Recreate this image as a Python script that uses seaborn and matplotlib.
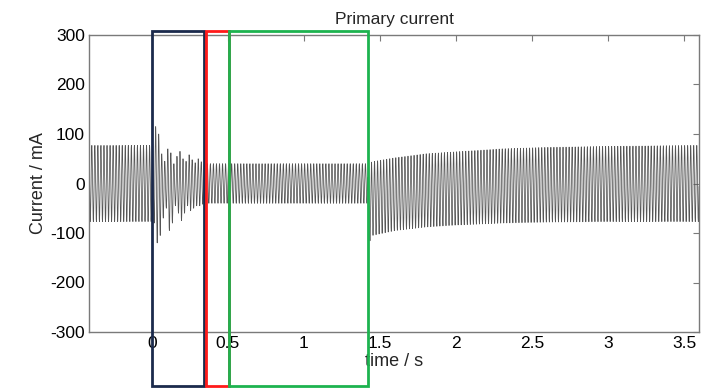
import numpy as np
import pandas as pd
import matplotlib
matplotlib.use("Agg")
import matplotlib.pyplot as plt
import seaborn as sns
from matplotlib.patches import Rectangle

# ---- data ----
freq_hz = 50.0
t_start, t_end = -0.42, 3.6
fault_time = 0.0
settle_time = 0.35
switch_time = 1.42

pre_peak_up, pre_peak_lo = 77, -77
# per-cycle peaks during the transient after t = 0
trans_up = [80, 115, 100, 60, 45, 70, 62, 40, 55, 65, 50, 45, 58, 48, 42, 50, 44, 40]
trans_lo = [-80, -120, -105, -70, -50, -95, -80, -45, -60, -75, -60, -45, -55, -50, -45, -45, -42, -40]
mid_peak_up, mid_peak_lo = 40, -40
# envelope after the switch at ~1.42 s
post_t = [1.42, 1.45, 1.6, 1.8, 2.0, 2.3, 2.6, 3.0, 3.6]
post_up = [40, 44, 52, 60, 64, 70, 73, 75, 77]
post_lo = [-125, -105, -95, -88, -84, -80, -78, -77, -77]

x_ticks = [0, 0.5, 1, 1.5, 2, 2.5, 3, 3.5]
x_tick_labels = ["0", "0.5", "1", "1.5", "2", "2.5", "3", "3.5"]
y_ticks = [-300, -200, -100, 0, 100, 200, 300]
y_tick_labels = ["-300", "-200", "-100", "0", "100", "200", "300"]

boxes = [  # (x0, x1, colour)
    (0.0, 0.344, "#1b2a4c"),
    (0.355, 0.505, "#ff1a1a"),
    (0.505, 1.421, "#1db34f"),
]
box_top, box_bottom = 309, -409

# ---- build waveform from envelopes ----
fs = 5000
t = np.arange(t_start, t_end, 1 / fs)
up = np.empty_like(t)
lo = np.empty_like(t)
period = 1 / freq_hz
pre = t < fault_time
up[pre], lo[pre] = pre_peak_up, pre_peak_lo
tr = (t >= fault_time) & (t < settle_time)
idx = np.clip(((t[tr] - fault_time) / period).astype(int), 0, len(trans_up) - 1)
up[tr] = np.array(trans_up)[idx]
lo[tr] = np.array(trans_lo)[idx]
mid = (t >= settle_time) & (t < switch_time)
up[mid], lo[mid] = mid_peak_up, mid_peak_lo
post = t >= switch_time
up[post] = np.interp(t[post], post_t, post_up)
lo[post] = np.interp(t[post], post_t, post_lo)
center = (up + lo) / 2
half = (up - lo) / 2
current = center + half * np.sin(2 * np.pi * freq_hz * t + 0.3)
df = pd.DataFrame({"time": t, "current": current})

# ---- plot ----
sns.set_style("white")
plt.rcParams["font.family"] = ["Liberation Sans", "DejaVu Sans"]
plt.rcParams["axes.unicode_minus"] = False
fig = plt.figure(figsize=(7.21, 3.88), dpi=100)
ax = fig.add_axes([89 / 721, 1 - 332 / 388, 610 / 721, 297 / 388])
sns.lineplot(data=df, x="time", y="current", ax=ax, color="#555555",
             linewidth=0.55, estimator=None, sort=False)
ax.set_xlim(-63 / 152, 547 / 152)
ax.set_ylim(-300, 300)
ax.set_xticks(x_ticks)
ax.set_xticklabels(x_tick_labels)
ax.set_yticks(y_ticks)
ax.set_yticklabels(y_tick_labels)
for s in ax.spines.values():
    s.set_visible(True)
    s.set_color("#7a7a7a")
    s.set_linewidth(1.0)
ax.tick_params(direction="in", length=4, width=0.8, color="#7a7a7a",
               top=True, right=True, labelsize=12.5, pad=3, labelcolor="black")
ax.set_title("Primary current", fontsize=12.5, pad=8)
ax.set_xlabel("time / s", fontsize=13, labelpad=1)
ax.set_ylabel("Current / mA", fontsize=13, labelpad=2)

for x0, x1, c in boxes:
    ax.add_patch(Rectangle((x0, box_bottom), x1 - x0, box_top - box_bottom,
                           fill=False, edgecolor=c, linewidth=2.0,
                           clip_on=False, zorder=5))

fig.savefig("out.png", dpi=100)
